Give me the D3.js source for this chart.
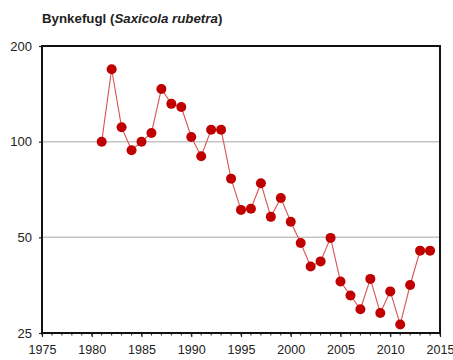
<!DOCTYPE html>
<html>
<head>
<meta charset="utf-8">
<script src="https://cdn.jsdelivr.net/npm/d3@7"></script>
<style>
  html, body { margin: 0; padding: 0; background: #fff; }
  svg { display: block; font-family: Arial, "Liberation Sans", sans-serif; }
</style>
</head>
<body>
<svg id="chart" width="453" height="360"></svg>
<script>
// Whinchat population index (log scale), 1981-2014
const years = [1981, 1982, 1983, 1984, 1985, 1986, 1987, 1988, 1989, 1990,
               1991, 1992, 1993, 1994, 1995, 1996, 1997, 1998, 1999, 2000,
               2001, 2002, 2003, 2004, 2005, 2006, 2007, 2008, 2009, 2010,
               2011, 2012, 2013, 2014];
const index = [100, 169, 111, 94, 100, 106.5, 146.5, 131.5, 128.5, 103.5,
               90, 109, 109, 76.5, 61, 61.5, 74, 58, 66.5, 56,
               48, 40.5, 42, 49.8, 36.3, 32.8, 29.7, 37, 28.9, 33.8,
               26.6, 35.4, 45.4, 45.4];
const xTicks = [1975, 1980, 1985, 1990, 1995, 2000, 2005, 2010, 2015];
const yTicks = [25, 50, 100, 200];
const gridValues = [50, 100];

const svg = d3.select("#chart");
const margin = { left: 42, right: 13, top: 46, bottom: 27 };
const W = 453, H = 360;

const x = d3.scaleLinear().domain([1975, 2015]).range([margin.left, W - margin.right]);
const y = d3.scaleLog().base(2).domain([25, 200]).range([H - margin.bottom, margin.top]);

// Title
const title = svg.append("text")
  .attr("x", 42).attr("y", 22.5)
  .attr("font-size", 13.3).attr("font-weight", "bold").attr("fill", "#222");
title.append("tspan").text("Bynkefugl (");
title.append("tspan").attr("font-style", "italic").text("Saxicola rubetra");
title.append("tspan").text(")");

// Horizontal gridlines
svg.append("g").selectAll("line").data(gridValues).join("line")
  .attr("x1", x(1975)).attr("x2", x(2015))
  .attr("y1", d => y(d)).attr("y2", d => y(d))
  .attr("stroke", "#c4c4c4").attr("stroke-width", 1.5);

// Minor yearly ticks on the x axis
svg.append("g").selectAll("line").data(d3.range(1975, 2016)).join("line")
  .attr("x1", d => x(d)).attr("x2", d => x(d))
  .attr("y1", y(25)).attr("y2", y(25) + 2.5)
  .attr("stroke", "#222").attr("stroke-width", 1);

// X axis
const xAxis = svg.append("g")
  .attr("transform", `translate(0,${y(25)})`)
  .call(d3.axisBottom(x).tickValues(xTicks).tickFormat(d3.format("d")).tickSize(4).tickPadding(8));
xAxis.select(".domain").remove();
xAxis.selectAll("line").attr("stroke", "#222").attr("stroke-width", 1.2);
xAxis.selectAll("text").attr("font-size", 12.5).attr("fill", "#222")
  .attr("font-family", "Arial, 'Liberation Sans', sans-serif");

// Y axis
const yAxis = svg.append("g")
  .attr("transform", `translate(${x(1975)},0)`)
  .call(d3.axisLeft(y).tickValues(yTicks).tickFormat(d3.format("d")).tickSize(3).tickPadding(7));
yAxis.select(".domain").remove();
yAxis.selectAll("line").attr("stroke", "#222").attr("stroke-width", 1.2);
yAxis.selectAll("text").attr("font-size", 13).attr("fill", "#222")
  .attr("font-family", "Arial, 'Liberation Sans', sans-serif");

// Plot frame
svg.append("rect")
  .attr("x", x(1975)).attr("y", y(200))
  .attr("width", x(2015) - x(1975)).attr("height", y(25) - y(200))
  .attr("fill", "none").attr("stroke", "#111").attr("stroke-width", 2);

// Series line and markers
const pts = years.map((yr, i) => [yr, index[i]]);
svg.append("path")
  .datum(pts)
  .attr("fill", "none")
  .attr("stroke", "#d9534f").attr("stroke-width", 1.1)
  .attr("d", d3.line().x(d => x(d[0])).y(d => y(d[1])));

svg.append("g").selectAll("circle").data(pts).join("circle")
  .attr("cx", d => x(d[0])).attr("cy", d => y(d[1]))
  .attr("r", 5).attr("fill", "#c00000");
</script>
</body>
</html>
